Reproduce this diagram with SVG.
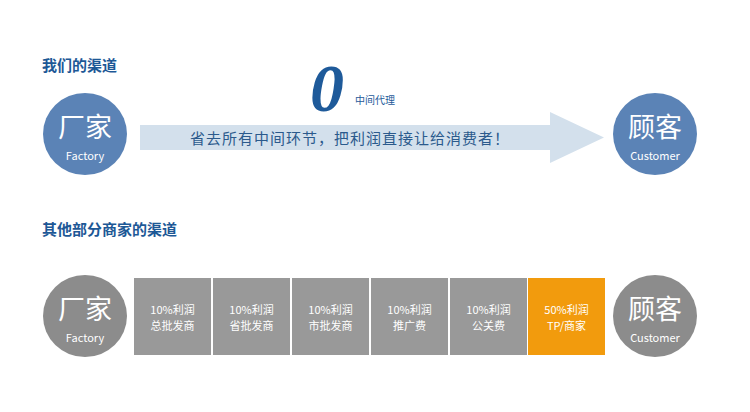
<svg xmlns="http://www.w3.org/2000/svg" width="750" height="412" viewBox="0 0 750 412">
<style>
text{font-family:"Noto Sans CJK SC","Noto Sans",sans-serif}
.t{font-size:15px;font-weight:bold;fill:#1d5896}
.big{font-size:27px;fill:#fff;text-anchor:middle}
.sm{font-size:11px;fill:#fff;text-anchor:middle}
.bx{fill:#999999}
.bt{font-size:11px;fill:#fff;text-anchor:middle}
</style>
<rect width="750" height="412" fill="#fff"/>
<text class="t" x="42" y="71">我们的渠道</text>
<text class="t" x="42" y="235">其他部分商家的渠道</text>
<g id="connectors">
<path d="M140 125H550V112L604 137.5L550 163V150H140Z" fill="#d3e0ec"/>
</g>
<text x="190" y="144" font-size="15" letter-spacing="1" fill="#2b5a8c">省去所有中间环节，把利润直接让给消费者！</text>
<text x="327" y="111" font-size="68" font-weight="bold" font-style="italic" fill="#1e5a9a" text-anchor="middle" style="font-family:'Liberation Serif',serif">0</text>
<text x="355" y="104" font-size="10" fill="#1e5a9a">中间代理</text>
<g id="factory1"><ellipse cx="85" cy="134" rx="42" ry="41" fill="#5b83b6"/><text class="big" x="85" y="137">厂家</text><text class="sm" x="85" y="160">Factory</text></g>
<g id="customer1"><ellipse cx="655" cy="134" rx="42" ry="41" fill="#5b83b6"/><text class="big" x="655" y="137">顾客</text><text class="sm" x="655" y="160">Customer</text></g>
<g id="factory2"><ellipse cx="85" cy="316" rx="42" ry="41" fill="#8c8c8c"/><text class="big" x="85" y="319">厂家</text><text class="sm" x="85" y="342">Factory</text></g>
<g id="customer2"><ellipse cx="655" cy="316" rx="42" ry="41" fill="#8c8c8c"/><text class="big" x="655" y="319">顾客</text><text class="sm" x="655" y="342">Customer</text></g>
<g id="b1"><rect class="bx" x="134" y="278" width="77" height="77"/><text class="bt" x="172.5" y="314">10%利润</text><text class="bt" x="172.5" y="330">总批发商</text></g>
<g id="b2"><rect class="bx" x="213" y="278" width="77" height="77"/><text class="bt" x="251.5" y="314">10%利润</text><text class="bt" x="251.5" y="330">省批发商</text></g>
<g id="b3"><rect class="bx" x="292" y="278" width="77" height="77"/><text class="bt" x="330.5" y="314">10%利润</text><text class="bt" x="330.5" y="330">市批发商</text></g>
<g id="b4"><rect class="bx" x="371" y="278" width="77" height="77"/><text class="bt" x="409.5" y="314">10%利润</text><text class="bt" x="409.5" y="330">推广费</text></g>
<g id="b5"><rect class="bx" x="450" y="278" width="77" height="77"/><text class="bt" x="488.5" y="314">10%利润</text><text class="bt" x="488.5" y="330">公关费</text></g>
<g id="b6"><rect x="528" y="278" width="77" height="77" fill="#f29b0d"/><text class="bt" x="566.5" y="314">50%利润</text><text class="bt" x="566.5" y="330">TP/商家</text></g>
</svg>
